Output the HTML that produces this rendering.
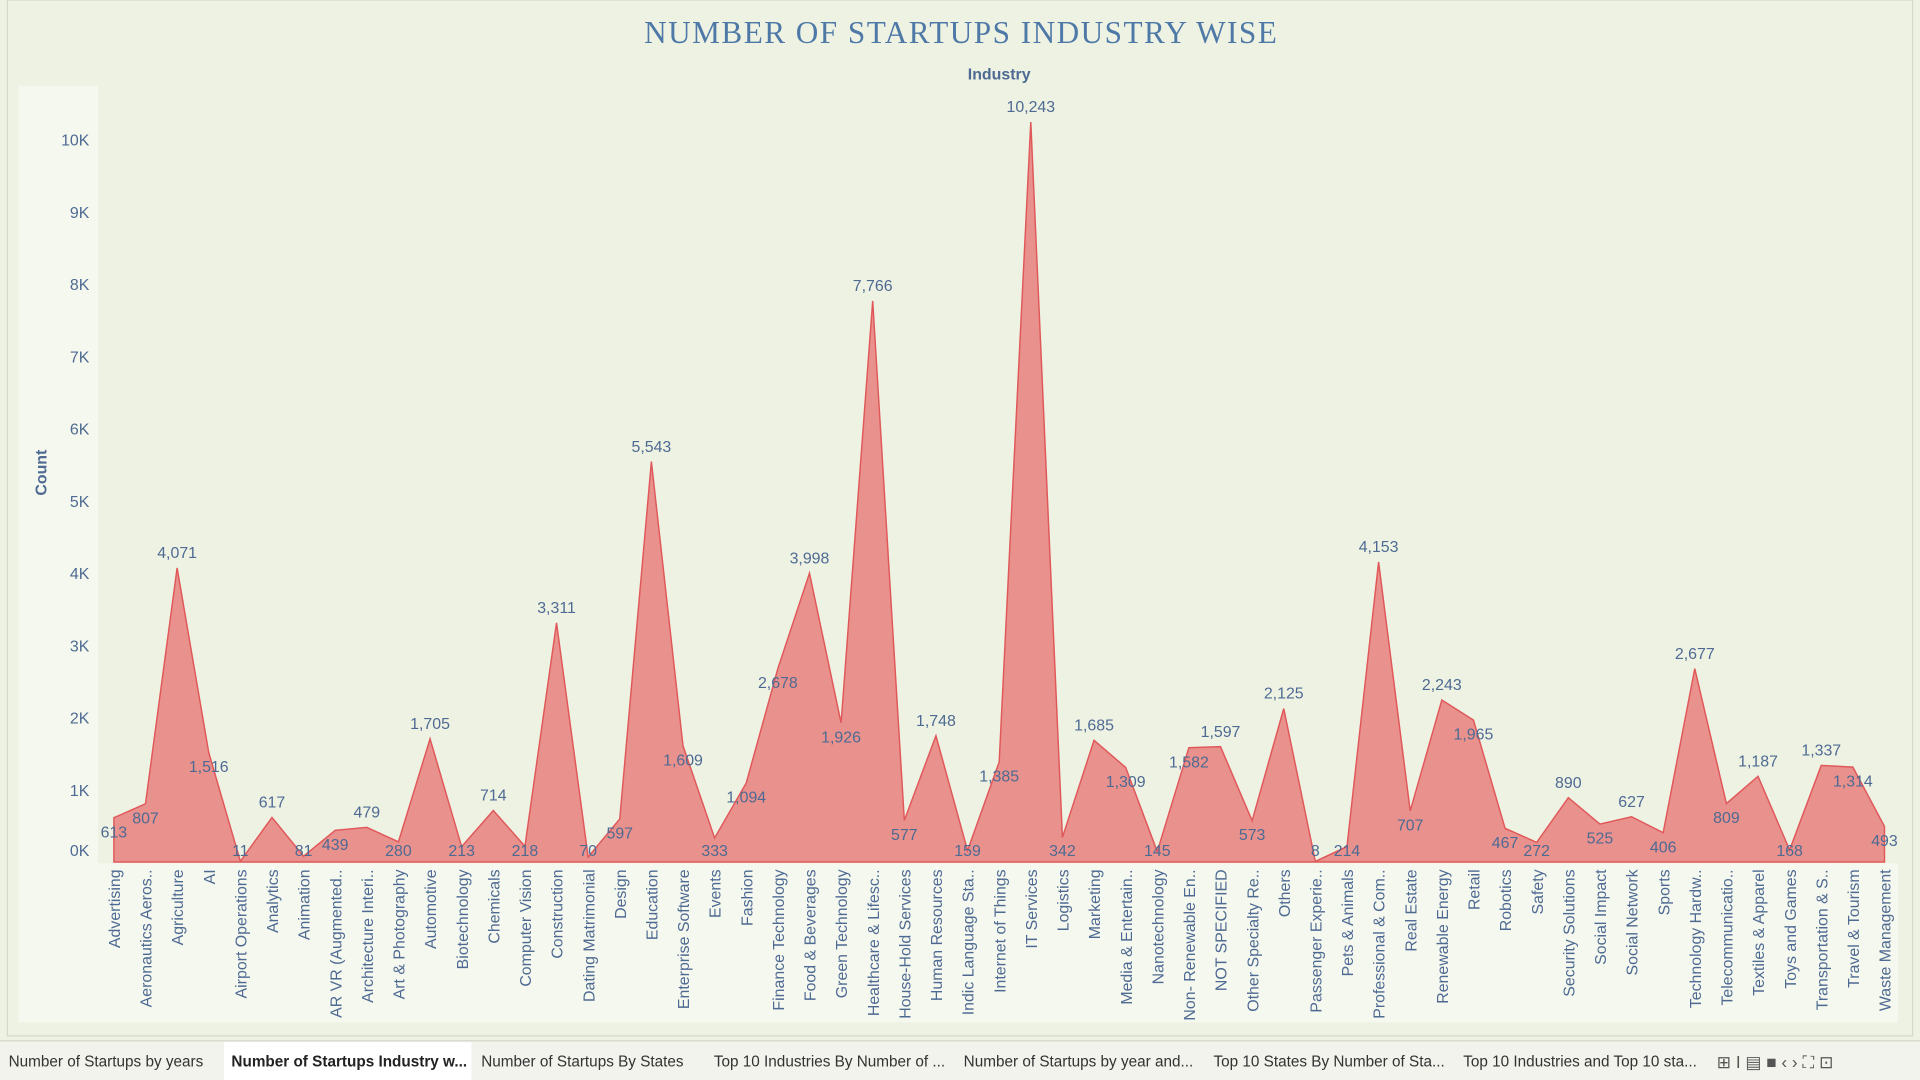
<!DOCTYPE html>
<html><head><meta charset="utf-8">
<style>
html,body{margin:0;padding:0;background:#eef2e3;width:1920px;height:1080px;overflow:hidden;font-family:"Liberation Sans",sans-serif;}
svg{display:block}
</style></head>
<body>
<svg id="chart" width="1920" height="1080" viewBox="0 0 1568 882" xmlns="http://www.w3.org/2000/svg">
<rect x="0" y="0" width="1568" height="882" fill="#eef2e3"/>
<rect x="6" y="0" width="1556" height="846" fill="#eef2e3" stroke="#d5d9cc"/>
<rect x="15" y="70" width="65" height="765" fill="#f5f8ee"/>
<rect x="80" y="705" width="1470" height="130" fill="#f5f8ee"/>
<text x="785" y="35" text-anchor="middle" font-family="Liberation Serif, serif" font-size="25.5" fill="#4e79a7" letter-spacing="1.2">NUMBER OF STARTUPS INDUSTRY WISE</text>
<text x="816" y="65" text-anchor="middle" font-size="13" font-weight="bold" fill="#4e6a93">Industry</text>
<text transform="translate(38,386) rotate(-90)" text-anchor="middle" font-size="13" font-weight="bold" fill="#4e6a93">Count</text>
<g id="yticks"></g><g id="area"></g><g id="labels"></g><g id="xlabels"></g>
<g>
<rect x="0" y="850" width="1568" height="32" fill="#f1f3ec"/>
<line x1="0" y1="850" x2="1568" y2="850" stroke="#d0d3c8"/>
<rect x="183" y="851" width="202" height="31" fill="#ffffff"/>
<text x="7" y="871" font-size="12.5" fill="#333">Number of Startups by years</text>
<text x="189" y="871" font-size="12.5" font-weight="bold" fill="#222">Number of Startups Industry w...</text>
<text x="393" y="871" font-size="12.5" fill="#333">Number of Startups By States</text>
<text x="583" y="871" font-size="12.5" fill="#333">Top 10 Industries By Number of ...</text>
<text x="787" y="871" font-size="12.5" fill="#333">Number of Startups by year and...</text>
<text x="991" y="871" font-size="12.5" fill="#333">Top 10 States By Number of Sta...</text>
<text x="1195" y="871" font-size="12.5" fill="#333">Top 10 Industries and Top 10 sta...</text>
<text x="1402" y="872" font-size="14" fill="#555">⊞ I   ▤  ■  ‹  ›  ⛶  ⊡</text>
</g>
</svg>
<script>
const categories=["Advertising","Aeronautics Aeros..","Agriculture","AI","Airport Operations","Analytics","Animation","AR VR (Augmented..","Architecture Interi..","Art & Photography","Automotive","Biotechnology","Chemicals","Computer Vision","Construction","Dating Matrimonial","Design","Education","Enterprise Software","Events","Fashion","Finance Technology","Food & Beverages","Green Technology","Healthcare & Lifesc..","House-Hold Services","Human Resources","Indic Language Sta..","Internet of Things","IT Services","Logistics","Marketing","Media & Entertain..","Nanotechnology","Non- Renewable En..","NOT SPECIFIED","Other Specialty Re..","Others","Passenger Experie..","Pets & Animals","Professional & Com..","Real Estate","Renewable Energy","Retail","Robotics","Safety","Security Solutions","Social Impact","Social Network","Sports","Technology Hardw..","Telecommunicatio..","Textiles & Apparel","Toys and Games","Transportation & S..","Travel & Tourism","Waste Management"];
const counts=[613,807,4071,1516,11,617,81,439,479,280,1705,213,714,218,3311,70,597,5543,1609,333,1094,2678,3998,1926,7766,577,1748,159,1385,10243,342,1685,1309,145,1582,1597,573,2125,8,214,4153,707,2243,1965,467,272,890,525,627,406,2677,809,1187,168,1337,1314,493];
const yTicks=[0,1000,2000,3000,4000,5000,6000,7000,8000,9000,10000];
const yTickLabels=["0K","1K","2K","3K","4K","5K","6K","7K","8K","9K","10K"];
const NS="http://www.w3.org/2000/svg";
const x0=93,x1=1539,base=704,top10k=114;
const X=i=>x0+(x1-x0)*i/(categories.length-1);
const Y=v=>base-(base-top10k)*v/10000;
function mk(t,a,p,txt){const e=document.createElementNS(NS,t);for(const k in a)e.setAttribute(k,a[k]);if(txt!==undefined)e.textContent=txt;document.getElementById(p).appendChild(e);return e;}
yTicks.forEach((v,i)=>{
 const t=mk("text",{x:73,y:Math.min(Y(v)+5,699),"text-anchor":"end","font-size":13,fill:"#4e6a93"},"yticks",yTickLabels[i]);
 
 
});
let d="M"+X(0)+","+base;
counts.forEach((v,i)=>{d+=" L"+X(i)+","+Y(v);});
d+=" L"+X(counts.length-1)+","+base+" Z";
const ar=mk("path",{d:d,fill:"#e8918d",stroke:"#e0585a","stroke-width":1.2},"area");


const fmt=v=>v.toLocaleString("en-US");
counts.forEach((v,i)=>{
 const prev=i>0?counts[i-1]:-1,next=i<counts.length-1?counts[i+1]:-1;
 const peak=v>=prev&&v>=next;
 let y=peak?Y(v)-8:Math.min(Y(v)+16,699);
 const t=mk("text",{x:X(i),y:y,"text-anchor":"middle","font-size":13,fill:"#4e6a93"},"labels",fmt(v));
 
 
 const l=mk("text",{transform:"translate("+(X(i)+5)+",710) rotate(-90)","text-anchor":"end","font-size":13,fill:"#4e6a93"},"xlabels",categories[i]);
 
 
});
</script>
</body></html>
